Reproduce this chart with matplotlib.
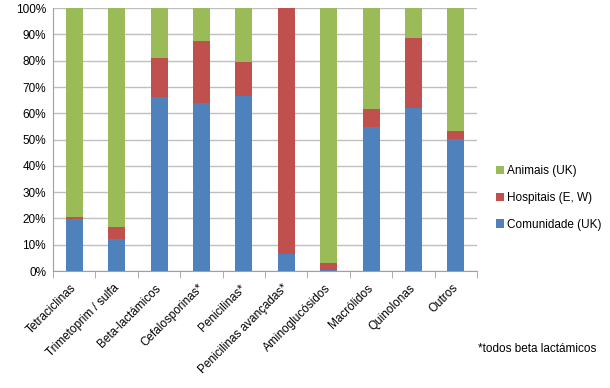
import matplotlib
matplotlib.use("Agg")
import matplotlib.pyplot as plt
import matplotlib.transforms as mtransforms
import numpy as np

categories = ["Tetraciclinas", "Trimetoprim / sulfa", "Beta-lactámicos", "Cefalosporinas*",
              "Penicilinas*", "Penicilinas avançadas*", "Aminoglucósidos", "Macrólidos",
              "Quinolonas", "Outros"]
comunidade = [19.9, 12.3, 66.1, 64.1, 66.6, 6.3, 0.4, 54.6, 62.2, 50.1]
hospitais = [0.5, 4.5, 14.9, 23.4, 13.1, 93.7, 2.5, 7.2, 26.5, 3.2]
animais = [100 - c - h for c, h in zip(comunidade, hospitais)]

plt.rcParams['font.family'] = ['Liberation Sans', 'DejaVu Sans']

fig = plt.figure(figsize=(6.10, 3.88), dpi=100)
ax = fig.add_axes([0.087, 0.3015, 0.695, 0.6775])

x = np.arange(len(categories))
w = 0.4
blue, red, green = "#4F81BD", "#C0504D", "#9BBB59"
ax.bar(x, comunidade, w, color=blue, label="Comunidade (UK)", zorder=3)
ax.bar(x, hospitais, w, bottom=comunidade, color=red, label="Hospitais (E, W)", zorder=3)
bottom2 = [c + h for c, h in zip(comunidade, hospitais)]
ax.bar(x, animais, w, bottom=bottom2, color=green, label="Animais (UK)", zorder=3)

ax.set_xlim(-0.5, len(categories) - 0.5)
ax.set_ylim(0, 100)
ax.set_yticks(np.arange(0, 101, 10))
ax.set_yticklabels([f"{v}%" for v in range(0, 101, 10)], fontsize=8.5)
ax.yaxis.grid(True, color="#BFBFBF", linewidth=1, zorder=0)
ax.tick_params(axis='y', length=0, pad=5)

ax.set_xticks(x)
ax.set_xticklabels(categories, rotation=45, ha='right', rotation_mode='anchor', fontsize=8.5)
ax.set_xticks(np.arange(-0.5, len(categories), 1), minor=True)
ax.tick_params(axis='x', which='major', length=0, pad=8)
ax.tick_params(axis='x', which='minor', length=5, color="#A0A0A0")
offset = mtransforms.ScaledTranslation(-4 / 100, 0, fig.dpi_scale_trans)
for lbl in ax.get_xticklabels():
    lbl.set_transform(lbl.get_transform() + offset)

for s in ['top', 'right']:
    ax.spines[s].set_visible(False)
ax.spines['left'].set_color("#A0A0A0")
ax.spines['bottom'].set_color("#A0A0A0")

handles, labels = ax.get_legend_handles_labels()
fig.legend(handles[::-1], labels[::-1], loc='center left', bbox_to_anchor=(0.795, 0.49),
           frameon=False, fontsize=8.5, handlelength=0.7, handleheight=0.7,
           handletextpad=0.3, labelspacing=1.25)

fig.text(0.783, 0.10, "*todos beta lactámicos", fontsize=8.5, ha='left', va='center')

fig.savefig("out.png", dpi=100)
